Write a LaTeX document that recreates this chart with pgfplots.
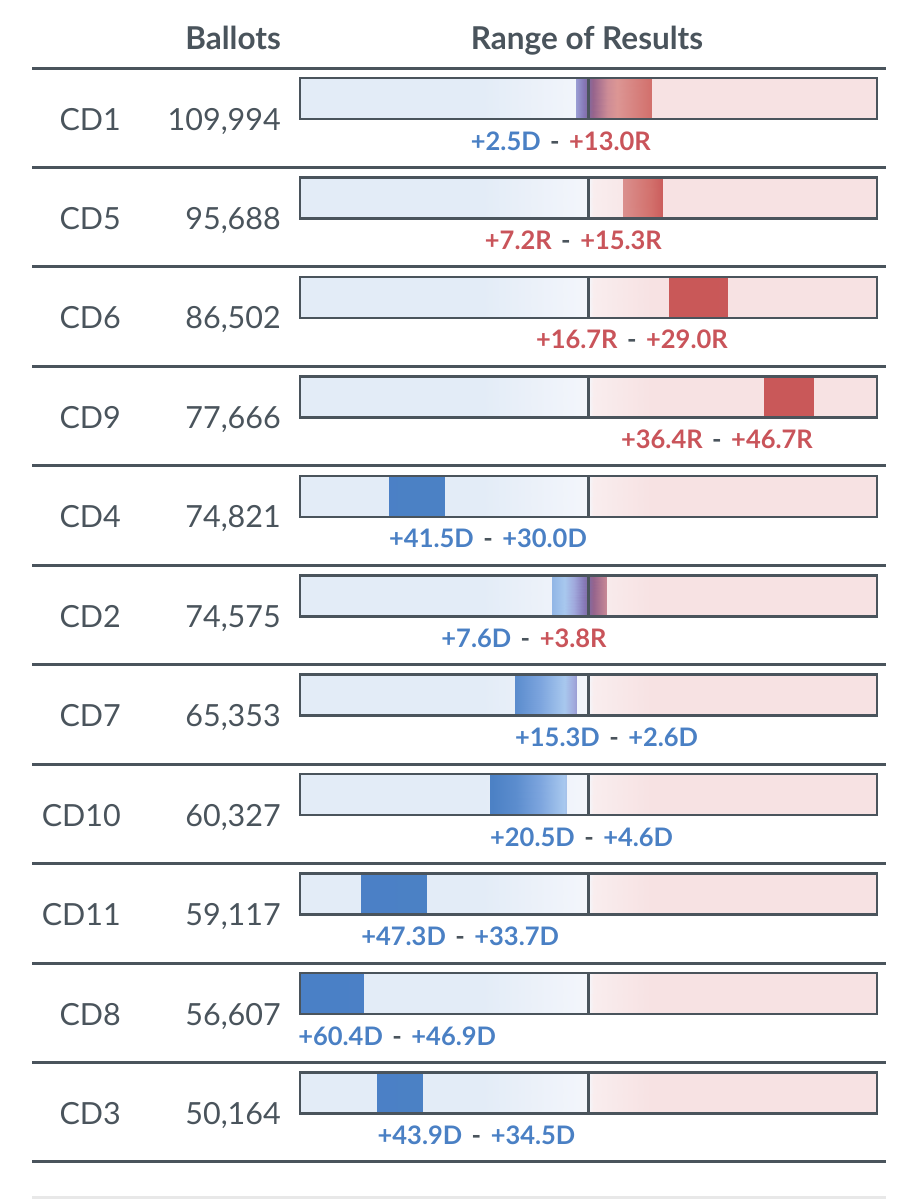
\documentclass[border=0pt]{standalone}
\usepackage{fontspec}
\setmainfont{Lato}
\usepackage{pgfplots}
\pgfplotsset{compat=1.18}
\usepgfplotslibrary{patchplots}
\definecolor{ink}{HTML}{4A545C}
\definecolor{dblue}{HTML}{4A80C4}
\definecolor{rred}{HTML}{C9545A}
\definecolor{gline}{HTML}{E8E8E8}
\pgfplotsset{
  colormap={barmap}{
    rgb255(0pt)=(74,128,198)
    rgb255(40pt)=(76,129,197)
    rgb255(45pt)=(92,141,206)
    rgb255(50pt)=(125,165,222)
    rgb255(55pt)=(168,200,238)
    rgb255(57pt)=(160,168,220)
    rgb255(59pt)=(135,122,185)
    rgb255(60pt)=(130,105,160)
    rgb255(61pt)=(150,100,140)
    rgb255(64pt)=(205,140,150)
    rgb255(66pt)=(220,150,148)
    rgb255(73pt)=(210,112,108)
    rgb255(76pt)=(201,88,88)
    rgb255(120pt)=(201,88,90)
  },
  colormap={bgmap}{
    rgb255(0pt)=(227,236,247)
    rgb255(38pt)=(227,236,247)
    rgb255(58pt)=(242,245,251)
    rgb255(60pt)=(244,246,251)
    rgb255(61pt)=(249,237,238)
    rgb255(73pt)=(247,226,227)
    rgb255(120pt)=(247,226,227)
  },
}
\newcommand\bgrow[2]{%
  \addplot[patch, patch type=rectangle, shader=interp, colormap name=bgmap, point meta=x]
    coordinates {(-60,#1) (60,#1) (60,#2) (-60,#2)};}
\newcommand\rangebar[4]{%
  \addplot[patch, patch type=rectangle, shader=interp, colormap name=barmap, point meta=x]
    coordinates {(#1,#3) (#2,#3) (#2,#4) (#1,#4)};}
\newcommand\frameit[2]{%
  \addplot[draw=ink, line width=2.5pt, line cap=rect, line join=miter]
    coordinates {(-60,#1) (60,#1) (60,#2) (-60,#2) (-60,#1)};
  \addplot[draw=ink, line width=3pt] coordinates {(0,#1) (0,#2)};}
\newcommand\sepline[1]{%
  \addplot[draw=ink, line width=3pt] coordinates {(-115.74,#1) (61.87,#1)};}
\newcommand\D[1]{\textcolor{dblue}{#1}}
\newcommand\R[1]{\textcolor{rred}{#1}}
\newcommand\dash{\hspace{9.5pt}\textcolor{ink}{-}\hspace{9.5pt}}
\newcommand\rowfont{\fontsize{30.5}{36}\selectfont}
\newcommand\headfont{\fontsize{31.5}{38}\selectfont\bfseries}
\newcommand\lblfont{\fontsize{25.5}{30}\selectfont\bfseries}
\begin{document}
\begin{tikzpicture}
\begin{axis}[
  scale only axis, width=918pt, height=1200pt,
  xmin=-122.40, xmax=68.53, ymin=0, ymax=1200, y dir=reverse,
  axis lines=none, clip=false,
  point meta min=-60, point meta max=60,
]
\path (rel axis cs:0,0) rectangle (rel axis cs:1,1);
% header
\node[anchor=base east, inner sep=0pt, text=ink, font=\headfont] at (axis cs:-63.96,49) {Ballots};
\node[anchor=base, inner sep=0pt, text=ink, font=\headfont] at (axis cs:-0.3,49) {Range of Results};
% separators
\sepline{68.0}\sepline{167.45}\sepline{266.9}\sepline{366.35}\sepline{465.8}\sepline{565.25}
\sepline{664.7}\sepline{764.15}\sepline{863.6}\sepline{963.05}\sepline{1062.5}\sepline{1161.95}
\addplot[draw=gline, line width=3pt] coordinates {(-115.74,1197) (61.87,1197)};
% backgrounds
\bgrow{78}{119}\bgrow{177.45}{218.45}\bgrow{276.9}{317.9}\bgrow{376.35}{417.35}
\bgrow{475.8}{516.8}\bgrow{575.25}{616.25}\bgrow{674.7}{715.7}\bgrow{774.15}{815.15}
\bgrow{873.6}{914.6}\bgrow{973.05}{1014.05}\bgrow{1072.5}{1113.5}
% ranges (D negative, R positive)
\rangebar{-2.5}{13.0}{78}{119}
\rangebar{7.2}{15.3}{177.45}{218.45}
\rangebar{16.7}{29.0}{276.9}{317.9}
\rangebar{36.4}{46.7}{376.35}{417.35}
\rangebar{-41.5}{-30.0}{475.8}{516.8}
\rangebar{-7.6}{3.8}{575.25}{616.25}
\rangebar{-15.3}{-2.6}{674.7}{715.7}
\rangebar{-20.5}{-4.6}{774.15}{815.15}
\rangebar{-47.3}{-33.7}{873.6}{914.6}
\rangebar{-60.0}{-46.9}{973.05}{1014.05}
\rangebar{-43.9}{-34.5}{1072.5}{1113.5}
% frames
\frameit{78}{119}\frameit{177.45}{218.45}\frameit{276.9}{317.9}\frameit{376.35}{417.35}
\frameit{475.8}{516.8}\frameit{575.25}{616.25}\frameit{674.7}{715.7}\frameit{774.15}{815.15}
\frameit{873.6}{914.6}\frameit{973.05}{1014.05}\frameit{1072.5}{1113.5}
% row labels
\begin{scope}[every node/.style={inner sep=0pt, text=ink, font=\rowfont}]
\node[anchor=base east] at (axis cs:-97.23,130) {CD1};
\node[anchor=base east] at (axis cs:-63.96,130) {109,994};
\node[anchor=base east] at (axis cs:-97.23,229.45) {CD5};
\node[anchor=base east] at (axis cs:-63.96,229.45) {95,688};
\node[anchor=base east] at (axis cs:-97.23,328.9) {CD6};
\node[anchor=base east] at (axis cs:-63.96,328.9) {86,502};
\node[anchor=base east] at (axis cs:-97.23,428.35) {CD9};
\node[anchor=base east] at (axis cs:-63.96,428.35) {77,666};
\node[anchor=base east] at (axis cs:-97.23,527.8) {CD4};
\node[anchor=base east] at (axis cs:-63.96,527.8) {74,821};
\node[anchor=base east] at (axis cs:-97.23,627.25) {CD2};
\node[anchor=base east] at (axis cs:-63.96,627.25) {74,575};
\node[anchor=base east] at (axis cs:-97.23,726.7) {CD7};
\node[anchor=base east] at (axis cs:-63.96,726.7) {65,353};
\node[anchor=base east] at (axis cs:-97.23,826.15) {CD10};
\node[anchor=base east] at (axis cs:-63.96,826.15) {60,327};
\node[anchor=base east] at (axis cs:-97.23,925.6) {CD11};
\node[anchor=base east] at (axis cs:-63.96,925.6) {59,117};
\node[anchor=base east] at (axis cs:-97.23,1025.05) {CD8};
\node[anchor=base east] at (axis cs:-63.96,1025.05) {56,607};
\node[anchor=base east] at (axis cs:-97.23,1124.5) {CD3};
\node[anchor=base east] at (axis cs:-63.96,1124.5) {50,164};
\end{scope}
% range labels
\begin{scope}[every node/.style={inner sep=0pt, font=\lblfont}]
\node[anchor=base east] at (axis cs:13.0,150) {\D{+2.5D}\dash\R{+13.0R}};
\node[anchor=base east] at (axis cs:15.3,249.45) {\R{+7.2R}\dash\R{+15.3R}};
\node[anchor=base east] at (axis cs:29.0,348.9) {\R{+16.7R}\dash\R{+29.0R}};
\node[anchor=base east] at (axis cs:46.7,448.35) {\R{+36.4R}\dash\R{+46.7R}};
\node[anchor=base west] at (axis cs:-41.5,547.8) {\D{+41.5D}\dash\D{+30.0D}};
\node[anchor=base east] at (axis cs:3.8,647.25) {\D{+7.6D}\dash\R{+3.8R}};
\node[anchor=base west] at (axis cs:-15.3,746.7) {\D{+15.3D}\dash\D{+2.6D}};
\node[anchor=base west] at (axis cs:-20.5,846.15) {\D{+20.5D}\dash\D{+4.6D}};
\node[anchor=base west] at (axis cs:-47.3,945.6) {\D{+47.3D}\dash\D{+33.7D}};
\node[anchor=base west] at (axis cs:-60.4,1045.05) {\D{+60.4D}\dash\D{+46.9D}};
\node[anchor=base west] at (axis cs:-43.9,1144.5) {\D{+43.9D}\dash\D{+34.5D}};
\end{scope}
\end{axis}
\end{tikzpicture}
\end{document}
